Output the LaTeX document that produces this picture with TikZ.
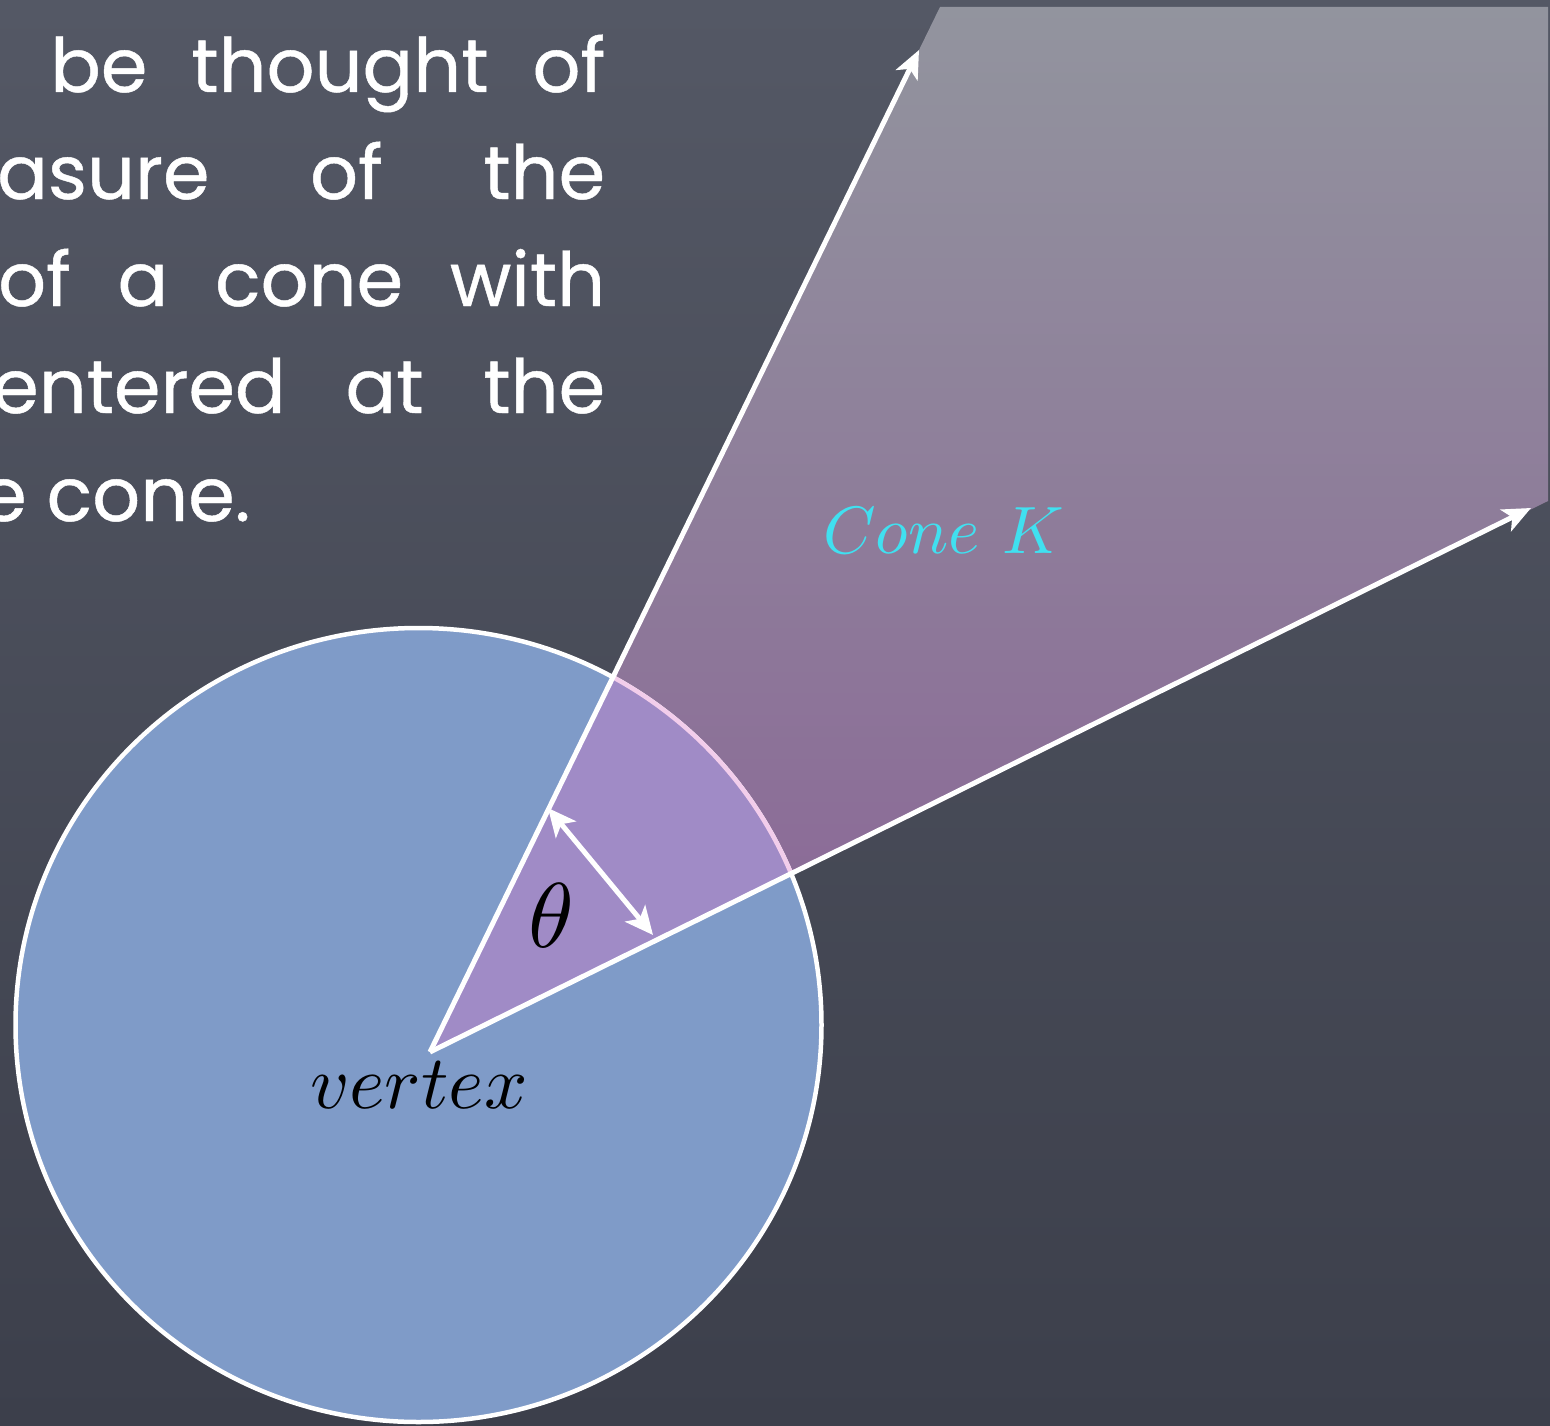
\documentclass[tikz,border=0pt]{standalone}
\usepackage{fontspec}
\usetikzlibrary{arrows.meta}
\newfontfamily\chalkfont{Poppins}[FakeBold=0.6]

\definecolor{boardtop}{RGB}{84,88,101}
\definecolor{boardbot}{RGB}{60,63,75}
\definecolor{conetop}{RGB}{146,148,158}
\definecolor{conebot}{RGB}{138,100,150}
\definecolor{discblue}{RGB}{127,155,200}
\definecolor{lavender}{RGB}{160,139,198}
\definecolor{pinkarc}{RGB}{242,205,235}
\definecolor{conecyan}{RGB}{64,224,240}

\newcommand{\boardline}[4]{%
  \node[boardtext, anchor=base west] (#1) at (#2,#3) {\makebox[\dimexpr605pt-#2pt\relax][s]{#4}};}

\begin{document}
\begin{tikzpicture}[x=1pt, y=-1pt,
  boardtext/.style={inner sep=0pt, text=white, font=\chalkfont\fontsize{75}{80}\selectfont},
  ray/.style={draw=white, line width=5pt, -{Stealth[length=28pt, width=24pt, inset=7pt]}},
  anglearrow/.style={draw=white, line width=5pt, {Stealth[length=28pt, width=26pt, inset=7pt]}-{Stealth[length=28pt, width=26pt, inset=7pt]}}]
\useasboundingbox (0,0) rectangle (1550,1426);
\shade[top color=boardtop, bottom color=boardbot] (0,0) rectangle (1550,1426);

% text block, cut at the left edge
\begin{scope}
\clip (0,0) rectangle (1550,1426);
\boardline{lineA}{50}{92}{be thought of}
\boardline{lineB}{-3}{199}{asure of the}
\boardline{lineC}{-2}{306}{of a cone with}
\boardline{lineD}{-8}{413}{entered at the}
\node[boardtext, anchor=base west] (lineE) at (-20,521) {e cone.};
\end{scope}

\coordinate (vtx) at (430,1052);
\coordinate (tipA) at (919,50);
\coordinate (tipB) at (1531,508);
\coordinate (coneTL) at (940,7);
\coordinate (coneTR) at (1548,7);
\coordinate (coneBR) at (1548,501);
\coordinate (ctr) at (418.5,1025);

% the cone
\shade[top color=conetop, bottom color=conebot] (vtx) -- (coneTL) -- (coneTR) -- (coneBR) -- cycle;

% the disc round the vertex
\fill[discblue] (ctr) ellipse [x radius=403, y radius=397];
\draw[white, line width=4.5pt] (ctr) ellipse [x radius=403, y radius=397];
\begin{scope}
\clip (vtx) -- (coneTL) -- (coneTR) -- (coneBR) -- cycle;
\fill[lavender] (ctr) ellipse [x radius=403, y radius=397];
\draw[pinkarc, line width=4.5pt] (ctr) ellipse [x radius=403, y radius=397];
\end{scope}

\draw[ray] (vtx) -- (tipA);
\draw[ray] (vtx) -- (tipB);

\coordinate (thA) at (548,808);
\coordinate (thB) at (653,935);
\draw[anglearrow] (thA) -- (thB);

\node[scale=9.2, inner sep=0pt] (theta) at (551,916) {$\theta$};
\node[scale=7.6, inner sep=0pt, anchor=base] (vlabel) at (419,1108) {$vertex$};
\node[scale=6.7, inner sep=0pt, anchor=base west, text=conecyan] (conelabel) at (822,553) {$Cone\ K$};
\end{tikzpicture}
\end{document}
